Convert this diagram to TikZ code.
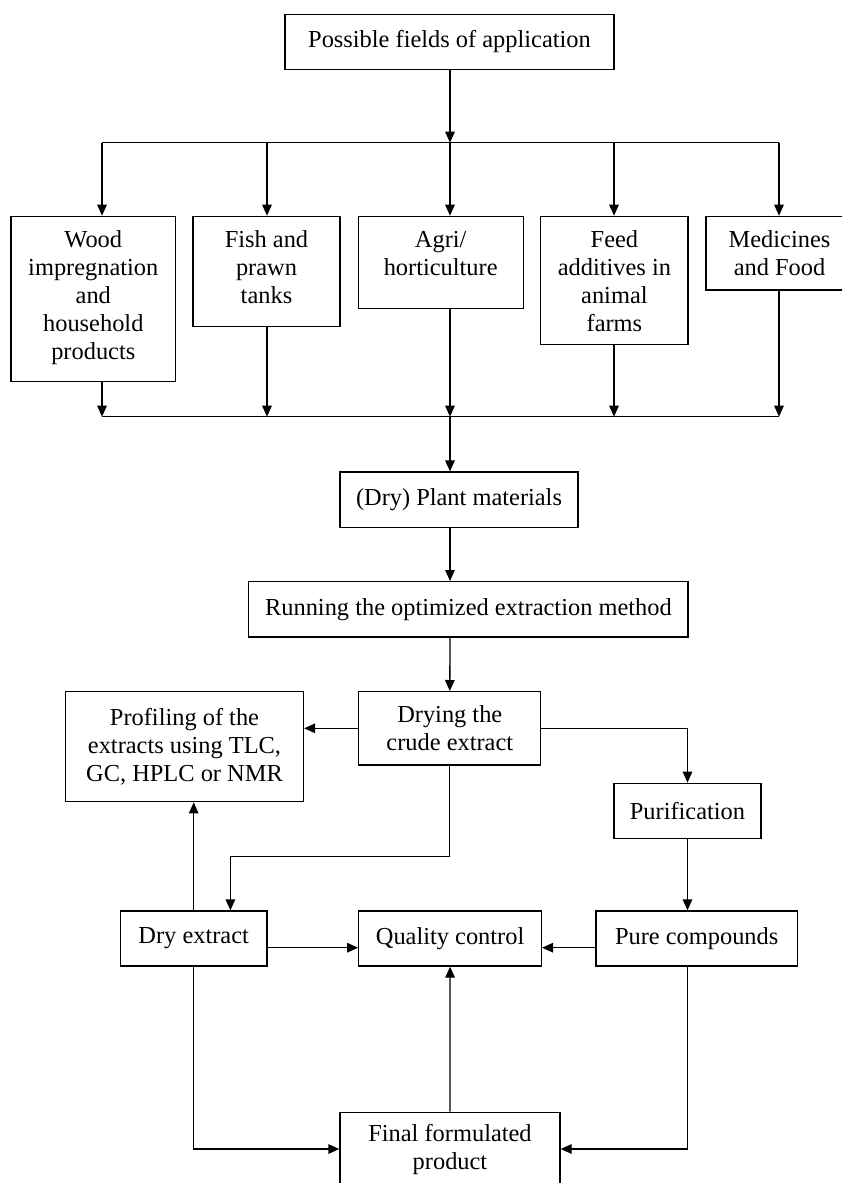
\documentclass[tikz,border=0pt]{standalone}
\usepackage{fontspec}
\setmainfont{Liberation Serif}
\usetikzlibrary{arrows.meta}

\begin{document}
\begin{tikzpicture}[x=1pt, y=-1pt,
    box/.style={draw, line width=1.3pt, inner sep=0pt, align=center,
      font=\fontsize{24.4}{28}\selectfont},
    link/.style={line width=1.3pt, -{Triangle[length=11pt, width=9.5pt]}},
    bus/.style={line width=1.3pt}]
    \useasboundingbox (0,0) rectangle (842,1183);
    \clip (0,0) rectangle (842,1183);

    % 1. top box and the five fields
    \node[box, minimum width=329pt, minimum height=54.6pt] (apps) at (449.5,42) {Possible fields of application};
    \node[box, anchor=north] (wood) at (93.3,215.7) {\parbox[c][165pt][t]{164.6pt}{\centering\rule{0pt}{31pt}Wood\\impregnation\\and\\household\\products}};
    \node[box, anchor=north] (fish) at (266.5,215.7) {\parbox[c][110pt][t]{147pt}{\centering\rule{0pt}{31pt}Fish and\\prawn\\tanks}};
    \node[box, anchor=north] (agri) at (440.7,215.7) {\parbox[c][92pt][t]{165pt}{\centering\rule{0pt}{31pt}Agri/\\horticulture}};
    \node[box, anchor=north] (feed) at (614.4,215.7) {\parbox[c][128.3pt][t]{147.2pt}{\centering\rule{0pt}{31pt}Feed\\additives in\\animal\\farms}};
    \node[box, anchor=north] (meds) at (779.5,215.7) {\parbox[c][73.6pt][t]{147pt}{\centering\rule{0pt}{31pt}Medicines\\and Food}};

    % 2. extraction chain
    \node[box, minimum width=238pt, minimum height=55.3pt] (plant) at (459,499.7) {(Dry) Plant materials};
    \node[box, minimum width=439.3pt, minimum height=55.3pt] (running) at (468.4,609.3) {Running the optimized extraction method};
    \node[box, minimum width=182pt, minimum height=73.3pt] (drying) at (449.8,728.3) {Drying the\\crude extract};
    \node[box, minimum width=237.9pt, minimum height=110pt] (profiling) at (184.5,746.7) {Profiling of the\\extracts using TLC,\\GC, HPLC or NMR};
    \node[box, minimum width=147.1pt, minimum height=55pt] (purif) at (687.5,810.8) {Purification};
    \node[box, minimum width=146.7pt, minimum height=55pt] (dryext) at (193.7,938.5) {Dry extract};
    \node[box, minimum width=182.6pt, minimum height=55pt] (qc) at (450.1,938.5) {Quality control};
    \node[box, minimum width=201.5pt, minimum height=55pt] (pure) at (696.7,938.5) {Pure compounds};
    \node[box, minimum width=220pt, minimum height=73.4pt] (final) at (450,1149) {Final formulated\\product};

    % 3. bus points and bends
    \coordinate (tb1) at (102,142.7);
    \coordinate (tb2) at (267,142.7);
    \coordinate (tb3) at (450,142.7);
    \coordinate (tb4) at (614,142.7);
    \coordinate (tb5) at (779,142.7);
    \coordinate (bb1) at (102,416.7);
    \coordinate (bb2) at (267,416.7);
    \coordinate (bb3) at (450,416.7);
    \coordinate (bb4) at (614,416.7);
    \coordinate (bb5) at (779,416.7);
    \coordinate (elbow) at (230.4,856.3);

    % 4. connectors
    \draw[link] (apps.south -| tb3) -- (tb3);
    \draw[bus] (tb1) -- (tb5);
    \foreach \b/\n in {tb1/wood, tb2/fish, tb3/agri, tb4/feed, tb5/meds}
        \draw[link] (\b) -- (\b |- \n.north);
    \foreach \b/\n in {bb1/wood, bb2/fish, bb3/agri, bb4/feed, bb5/meds}
        \draw[link] (\b |- \n.south) -- (\b);
    \draw[bus] (bb1) -- (bb5);
    \draw[link] (bb3) -- (bb3 |- plant.north);
    \draw[link] (plant.south -| bb3) -- (bb3 |- running.north);
    \draw[link] (running.south -| bb3) -- (drying.north);
    \draw[link] (drying.west) -- (drying.west -| profiling.east);
    \draw[link] (drying.east) -| (purif.north);
    \draw[link] (drying.south) |- (elbow) -- (elbow |- dryext.north);
    \draw[link] (dryext.north) -- (dryext.north |- profiling.south);
    \draw[link] (purif.south) -- (purif.south |- pure.north);
    \draw[link] ([yshift=-9.2pt]dryext.east) -- ([yshift=-9.2pt]dryext.east -| qc.west);
    \draw[link] ([yshift=-9.2pt]pure.west) -- ([yshift=-9.2pt]pure.west -| qc.east);
    \draw[link] (final.north) -- (qc.south);
    \draw[link] (dryext.south) |- (final.west);
    \draw[link] (pure.south -| purif.south) |- (final.east);

\end{tikzpicture}
\end{document}
